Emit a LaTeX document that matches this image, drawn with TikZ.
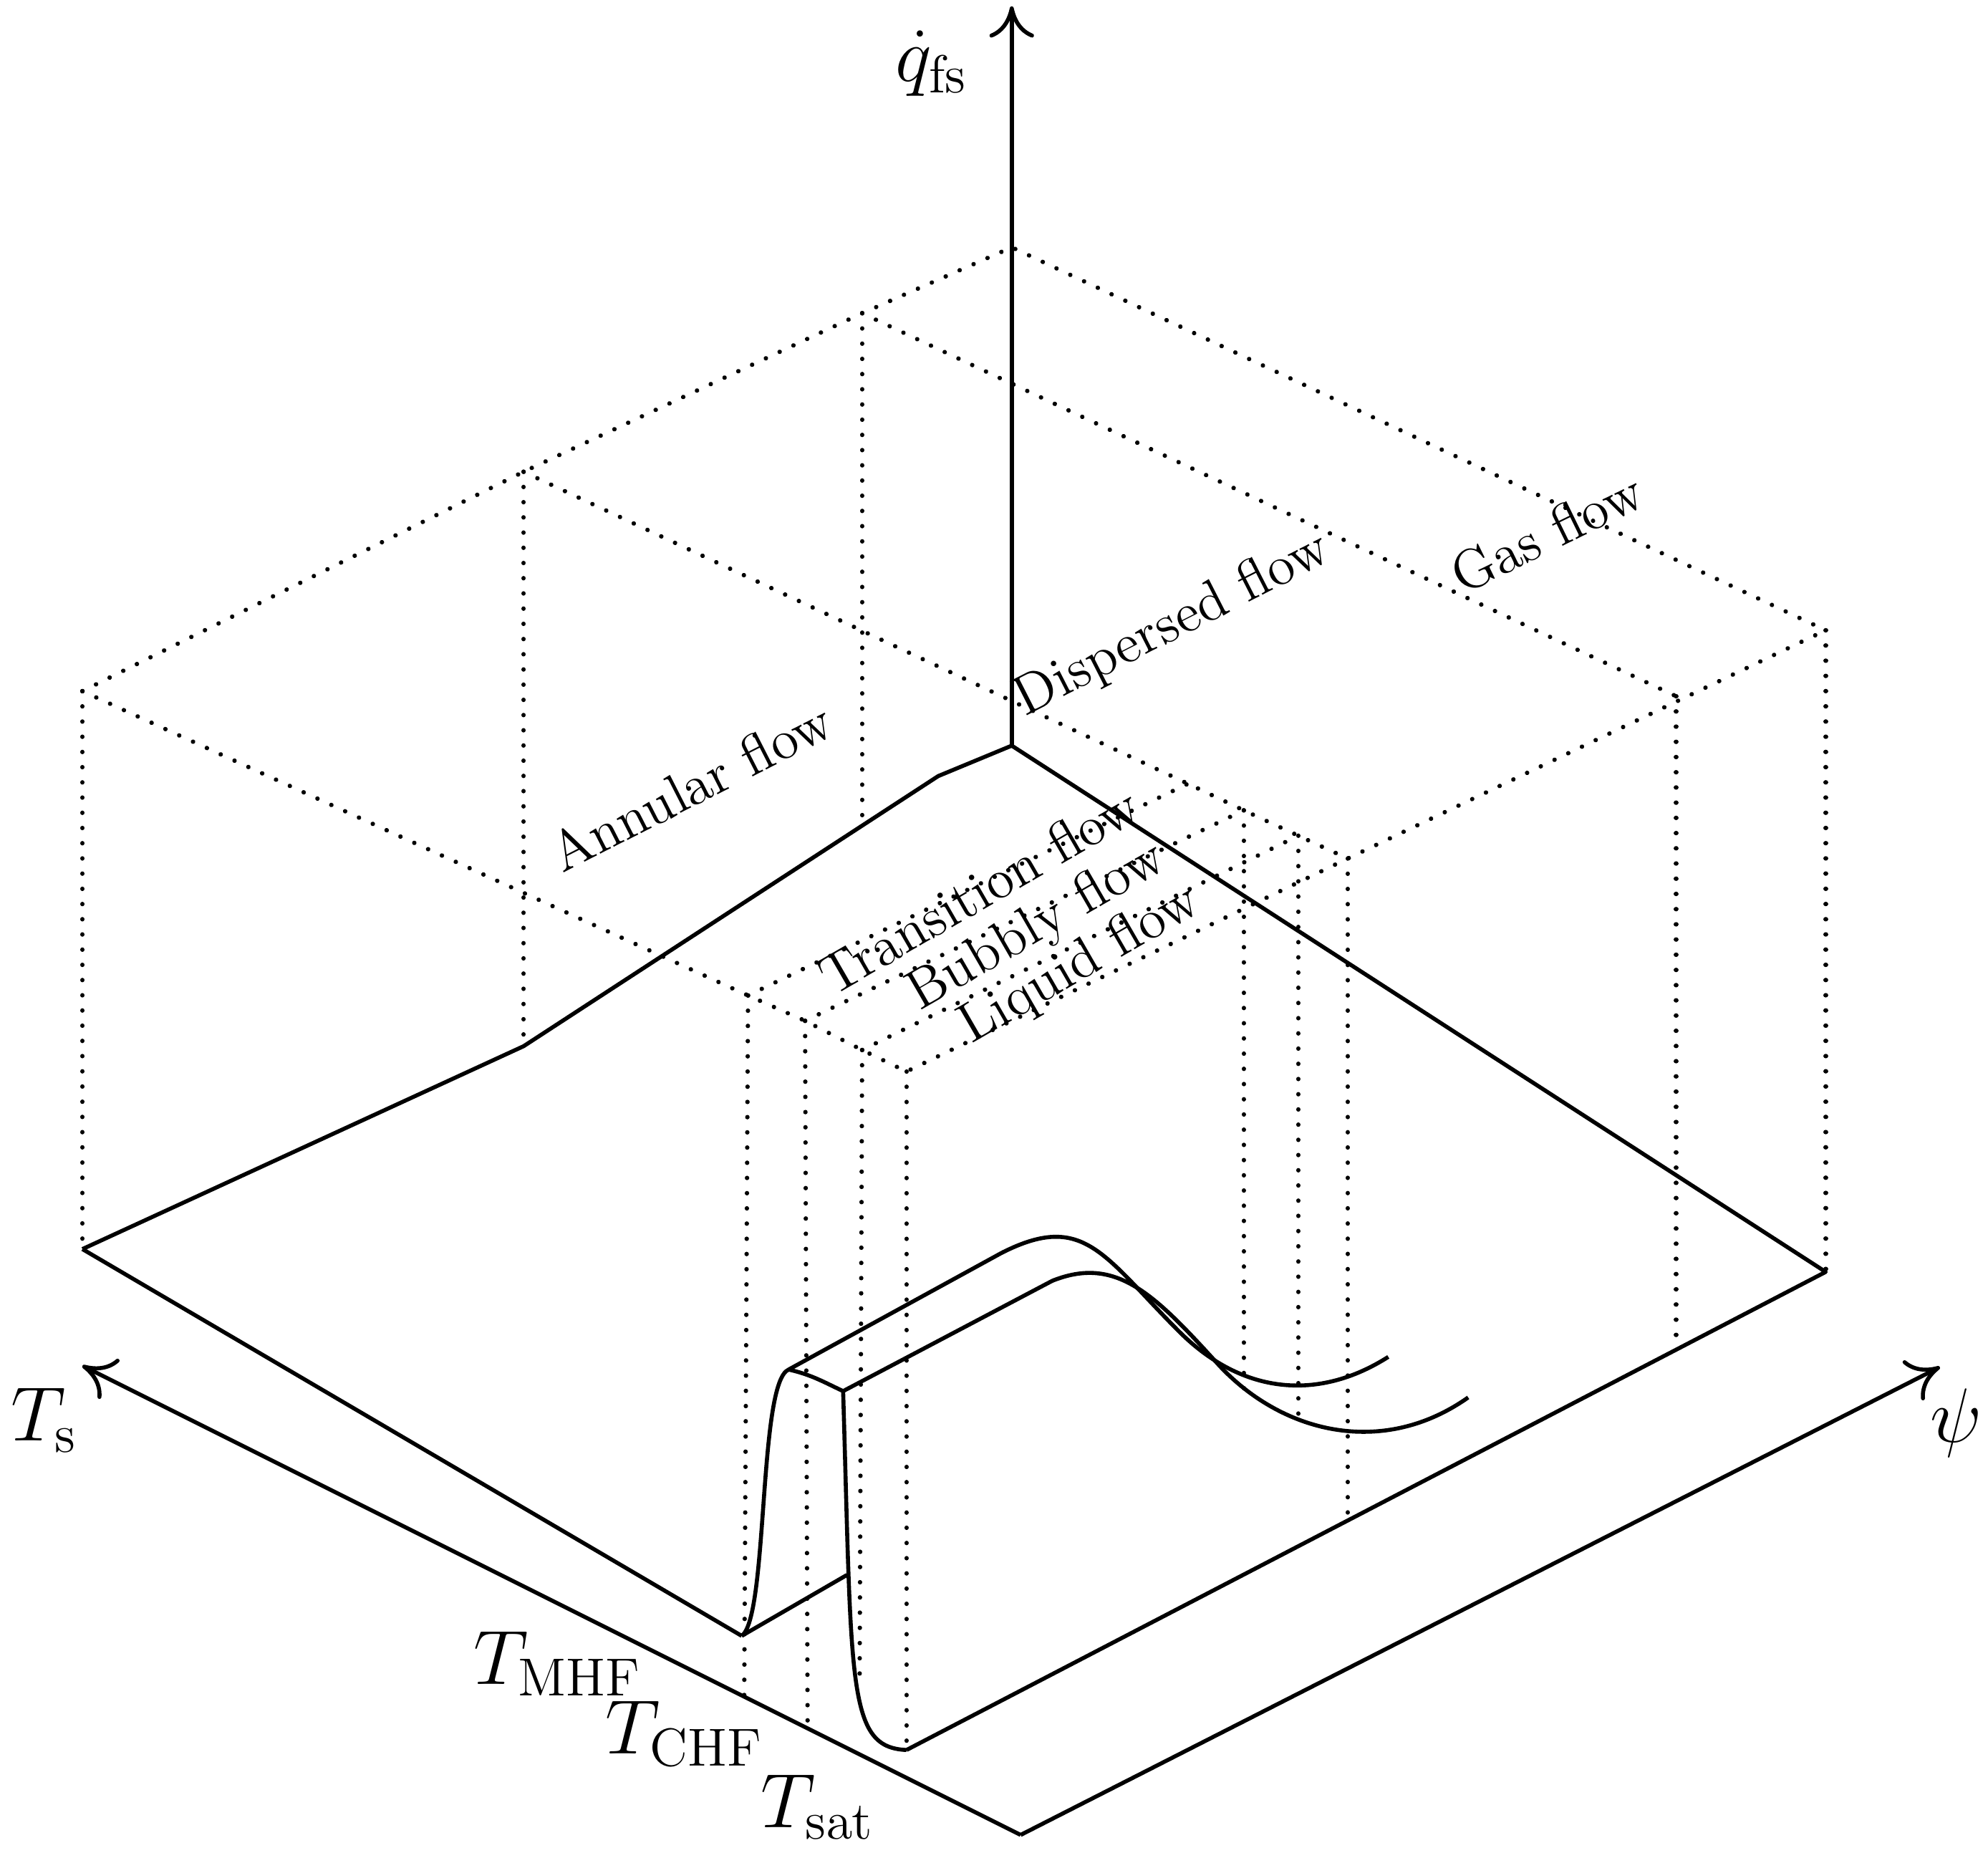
\documentclass[tikz,border=0pt]{standalone}
\usetikzlibrary{arrows.meta}
\begin{document}
\begin{tikzpicture}[x=0.01cm,y=-0.01cm,
  sol/.style={line width=0.9pt,line join=round},
  dot/.style={line width=1pt,dash pattern=on 0.01pt off 3.4pt,line cap=round},
  ax/.style={line width=0.9pt,-{To[length=7pt,width=10pt]}},
  lab/.style={font=\fontsize{12.5}{15}\selectfont,inner sep=0pt},
  tl/.style={font=\fontsize{17}{19}\selectfont,inner sep=0pt}]
\useasboundingbox (0,0) rectangle (1568,1465);
% coordinates
\coordinate (O) at (798,588);
\coordinate (B) at (798,195);
\coordinate (L) at (65,545);
\coordinate (R) at (1440,497);
\coordinate (F) at (715,845);
\coordinate (K1) at (413,372);
\coordinate (K2) at (680,247);
\coordinate (M2) at (1322,549);
\coordinate (P1) at (590,785);
\coordinate (P2) at (635,805);
\coordinate (P3) at (680,828);
\coordinate (Q1) at (937,618);
\coordinate (Q2) at (981,639);
\coordinate (Q3) at (1024,659);
\coordinate (Q4) at (1063,677);
\coordinate (Lb) at (65,985);
\coordinate (Rb) at (1440,1003);
\coordinate (S1) at (413,825);
\coordinate (S2) at (740,612);
\coordinate (Fb) at (715,1380);
\coordinate (Z) at (805,1447);
\coordinate (Tend) at (65,1077);
\coordinate (Pend) at (1530,1078);
\coordinate (qend) at (798,5);
\coordinate (C0) at (585,1290);
\coordinate (C1) at (622,1080);
\coordinate (C2) at (665,1097);
% dotted box
\draw[dot] (L) -- (K1) -- (K2) -- (B) -- (R);
\draw[dot] (L) -- (P1) -- (P2) -- (P3) -- (F) -- (Q4) -- (R);
\draw[dot] (K1) -- (Q1) -- (Q2) -- (Q3) -- (Q4);
\draw[dot] (K2) -- (M2);
\draw[dot] (P1) -- (Q1);
\draw[dot] (P2) -- (Q2);
\draw[dot] (P3) -- (Q3);
\draw[dot] (L) -- (Lb);
\draw[dot] (K1) -- (S1);
\draw[dot] (K2) -- (680,652);
\draw[dot] (R) -- (Rb);
\draw[dot] (M2) -- (1322,1064);
\draw[dot] (P1) -- (587,1338);
\draw[dot] (P2) -- (637,1363);
\draw[dot] (P3) -- (678,1330);
\draw[dot] (F) -- (Fb);
\draw[dot] (Q2) -- (981,1095);
\draw[dot] (Q3) -- (1024,1122);
\draw[dot] (Q4) -- (1063,1198);
% surface
\draw[sol] (Lb) -- (S1) -- (S2) -- (O) -- (Rb) -- (Fb);
\draw[sol] (Lb) -- (C0);
\draw[sol] (C0) -- (668,1242);
\draw[sol] (C0) .. controls (606,1275) and (598,1090) .. (C1)
  -- (790,988) .. controls (855,955) and (870,990) .. (930,1050)
  .. controls (980,1100) and (1040,1105) .. (1095,1070);
\draw[sol] (C1) .. controls (640,1084) and (650,1090) .. (C2)
  .. controls (672,1330) and (668,1378) .. (Fb);
\draw[sol] (C2) -- (830,1010) .. controls (880,990) and (910,1020) .. (960,1075)
  .. controls (1010,1130) and (1090,1150) .. (1158,1102);
% axes
\draw[ax] (O) -- (qend);
\draw[ax] (Z) -- (Tend);
\draw[ax] (Z) -- (Pend);
% labels
\node[tl] (lq) at (735,50) {$\dot q_{\mathrm{fs}}$};
\node[tl] (lT) at (35,1120) {$T_{\mathrm{s}}$};
\node[tl] (lp) at (1543,1122) {$\psi$};
\node[tl] (lm) at (440,1312) {$T_{\mathrm{MHF}}$};
\node[tl] (lc) at (540,1367) {$T_{\mathrm{CHF}}$};
\node[tl] (ls) at (645,1425) {$T_{\mathrm{sat}}$};
\node[lab,rotate=27] (ann) at (545,620) {Annular flow};
\node[lab,rotate=27] (dis) at (925,493) {Dispersed flow};
\node[lab,rotate=26] (gas) at (1220,420) {Gas flow};
\node[lab,rotate=30] (tr) at (772,702) {Transition flow};
\node[lab,rotate=30] (bu) at (818,731) {Bubbly flow};
\node[lab,rotate=30] (li) at (852,761) {Liquid flow};
\end{tikzpicture}
\end{document}
